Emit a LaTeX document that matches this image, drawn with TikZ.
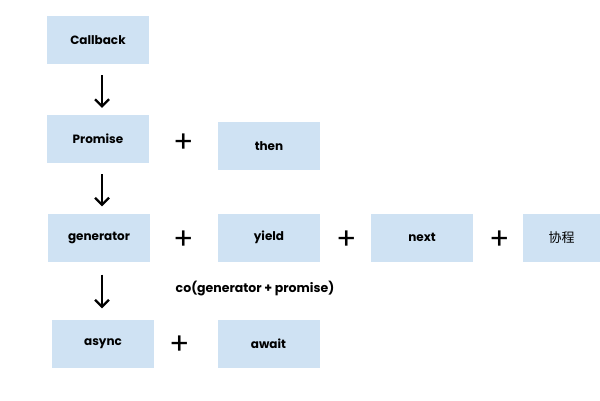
\documentclass[tikz,border=0pt]{standalone}
\usepackage{fontspec}
\setmainfont{Poppins}
\newfontfamily\cjkfont{Noto Sans CJK SC}
\usetikzlibrary{arrows.meta, positioning}
\definecolor{boxblue}{HTML}{CFE2F3}

\begin{document}
\begin{tikzpicture}
    [
        x=1pt, y=-1pt,
        stage/.style={rectangle, fill=boxblue, minimum width=102pt, minimum height=48pt, inner sep=0pt, font=\fontsize{12}{14}\selectfont\bfseries},
        plus/.style={font=\fontsize{30}{30}\selectfont, inner sep=0pt},
        flow/.style={-{Straight Barb[length=7pt, width=14pt]}, line width=2.2pt, shorten <=11pt, shorten >=7pt},
    ]
    \useasboundingbox (0,0) rectangle (600,400);
    %\fill[white] (0,0) rectangle (600,400);
    \node[stage] (callback) at (98,40) {Callback};
    \node[stage] (promise) at (98,139) {Promise};
    \node[stage] (then) at (269,146) {then};
    \node[stage] (generator) at (99,237.5) {generator};
    \node[stage] (yield) at (269,237.5) {yield};
    \node[stage] (next) at (422,237.5) {next};
    \node[stage, minimum width=77pt, font=\fontsize{13}{15}\selectfont\cjkfont] (coroutine) at (561.5,237.5) {协程};
    \node[stage] (async) at (103,343.5) {async};
    \node[stage] (await) at (268.5,343.5) {await};

    \node[plus] (plus then) at (184,143) {+};
    \node[plus] (plus yield) at (184,240) {+};
    \node[plus] (plus next) at (347,240) {+};
    \node[plus] (plus coroutine) at (500,240) {+};
    \node[plus] (plus await) at (180,345) {+};

    \node[font=\fontsize{12.5}{14}\selectfont\bfseries] (co) at (255,289) {co(generator + promise)};

    \draw[flow] (callback.south -| 102,0) -- (promise.north -| 102,0);
    \draw[flow] (promise.south -| 102,0) -- (generator.north -| 102,0);
    \draw[flow, shorten <=13pt, shorten >=11pt] (generator.south -| 102,0) -- (async.north -| 102,0);
\end{tikzpicture}
\end{document}
